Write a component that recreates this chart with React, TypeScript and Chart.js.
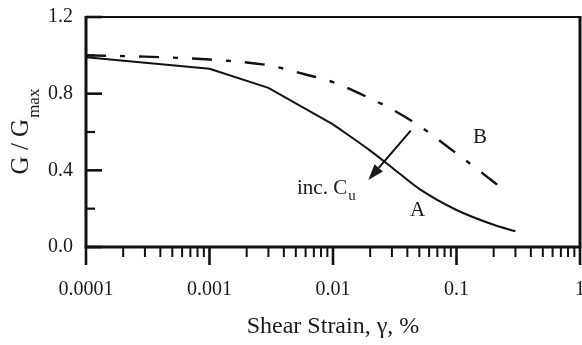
import React, { useEffect, useRef } from 'react';
import { Chart, registerables } from 'chart.js';

Chart.register(...registerables);

// Curve A (solid)
const strainA = [0.0001, 0.001, 0.003, 0.01, 0.02, 0.03, 0.05, 0.1, 0.2, 0.3];
const ratioA = [0.99, 0.93, 0.83, 0.64, 0.503, 0.415, 0.303, 0.193, 0.116, 0.082];
// index where curve A turns from straight segments to a smooth curve
const splitA = 3;
// Curve B (dash-dot)
const strainB = [0.0001, 0.0003, 0.001, 0.003, 0.006, 0.01, 0.02, 0.03, 0.05, 0.1, 0.15, 0.24];
const ratioB = [1.0, 0.993, 0.978, 0.948, 0.9, 0.86, 0.775, 0.718, 0.632, 0.488, 0.402, 0.3];

const xTickValues = [0.0001, 0.001, 0.01, 0.1, 1];
const xTickLabels = ['0.0001', '0.001', '0.01', '0.1', '1'];
const yMajorTicks = [0, 0.4, 0.8, 1.2];
const yMinorTicks = [0.2, 0.6, 1.0];

const xTitle = 'Shear Strain, \u03b3, %';
const yTitleMain = 'G / G';
const yTitleSub = 'max';

// annotations in data coordinates
const labelA = { text: 'A', x: 0.0483, y: 0.19 };
const labelB = { text: 'B', x: 0.155, y: 0.569 };
const incLabel = { text: 'inc. C', sub: 'u', x: 0.00511, y: 0.276 };
const arrowTail = { x: 0.0426, y: 0.607 };
const arrowTip = { x: 0.0193, y: 0.35 };

const SERIF = "'Liberation Serif', 'Times New Roman', serif";
const INK = '#111';

const decorPlugin = {
  id: 'decor',
  afterDatasetsDraw(chart: any) {
    const { ctx, chartArea, scales } = chart;
    const xs = scales.x;
    const ys = scales.y;
    const { left, right, top, bottom } = chartArea;
    ctx.save();
    ctx.strokeStyle = INK;
    ctx.fillStyle = INK;
    ctx.lineCap = 'butt';

    // frame
    ctx.lineWidth = 3;
    ctx.beginPath();
    ctx.moveTo(left, top - 1);
    ctx.lineTo(left, bottom);
    ctx.moveTo(left - 1.5, bottom);
    ctx.lineTo(right + 1.5, bottom);
    ctx.moveTo(right, bottom);
    ctx.lineTo(right, top - 1);
    ctx.stroke();
    ctx.lineWidth = 2.2;
    ctx.beginPath();
    ctx.moveTo(left, top);
    ctx.lineTo(right, top);
    ctx.stroke();

    // x ticks (outward, downward)
    ctx.lineWidth = 2.6;
    for (const v of xTickValues) {
      const px = xs.getPixelForValue(v);
      ctx.beginPath();
      ctx.moveTo(px, bottom);
      ctx.lineTo(px, bottom + 18);
      ctx.stroke();
    }
    ctx.lineWidth = 2;
    for (let d = 0; d < xTickValues.length - 1; d++) {
      for (let m = 2; m <= 9; m++) {
        const px = xs.getPixelForValue(xTickValues[d] * m);
        ctx.beginPath();
        ctx.moveTo(px, bottom);
        ctx.lineTo(px, bottom + 10);
        ctx.stroke();
      }
    }

    // y ticks (inward)
    ctx.lineWidth = 2.6;
    for (const v of yMajorTicks) {
      const py = ys.getPixelForValue(v);
      ctx.beginPath();
      ctx.moveTo(left, py);
      ctx.lineTo(left + 16, py);
      ctx.stroke();
    }
    ctx.lineWidth = 2.2;
    for (const v of yMinorTicks) {
      const py = ys.getPixelForValue(v);
      ctx.beginPath();
      ctx.moveTo(left, py);
      ctx.lineTo(left + 9, py);
      ctx.stroke();
    }

    // y title (rotated, with subscript)
    ctx.fillStyle = '#1a1a1a';
    ctx.save();
    const cy = (top + bottom) / 2;
    ctx.font = `25px ${SERIF}`;
    const wMain = ctx.measureText(yTitleMain).width;
    ctx.font = `17px ${SERIF}`;
    const wSub = ctx.measureText(yTitleSub).width;
    const total = wMain + wSub;
    ctx.translate(left - 58, cy + total / 2);
    ctx.rotate(-Math.PI / 2);
    ctx.textBaseline = 'alphabetic';
    ctx.textAlign = 'left';
    ctx.font = `25px ${SERIF}`;
    ctx.fillText(yTitleMain, 0, 0);
    ctx.font = `17px ${SERIF}`;
    ctx.fillText(yTitleSub, wMain + 1, 11);
    ctx.restore();

    // labels A, B
    ctx.font = `21px ${SERIF}`;
    ctx.textAlign = 'center';
    ctx.textBaseline = 'middle';
    ctx.fillText(labelA.text, xs.getPixelForValue(labelA.x), ys.getPixelForValue(labelA.y));
    ctx.fillText(labelB.text, xs.getPixelForValue(labelB.x), ys.getPixelForValue(labelB.y));

    // inc. Cu
    ctx.textAlign = 'left';
    ctx.textBaseline = 'alphabetic';
    const ix = xs.getPixelForValue(incLabel.x);
    const iy = ys.getPixelForValue(incLabel.y);
    ctx.font = `21px ${SERIF}`;
    ctx.fillText(incLabel.text, ix, iy);
    const wInc = ctx.measureText(incLabel.text).width;
    ctx.font = `15px ${SERIF}`;
    ctx.fillText(incLabel.sub, ix + wInc + 1, iy + 6);

    // arrow
    const tx = xs.getPixelForValue(arrowTail.x);
    const ty = ys.getPixelForValue(arrowTail.y);
    const hx = xs.getPixelForValue(arrowTip.x);
    const hy = ys.getPixelForValue(arrowTip.y);
    const ang = Math.atan2(hy - ty, hx - tx);
    const headLen = 16;
    const headHalf = 5.5;
    const bx = hx - headLen * Math.cos(ang);
    const by = hy - headLen * Math.sin(ang);
    ctx.lineWidth = 2;
    ctx.beginPath();
    ctx.moveTo(tx, ty);
    ctx.lineTo(bx, by);
    ctx.stroke();
    ctx.beginPath();
    ctx.moveTo(hx, hy);
    ctx.lineTo(bx + headHalf * Math.sin(ang), by - headHalf * Math.cos(ang));
    ctx.lineTo(bx - headHalf * Math.sin(ang), by + headHalf * Math.cos(ang));
    ctx.closePath();
    ctx.fill();

    ctx.restore();
  },
};

export default function App() {
  const ref = useRef<HTMLCanvasElement | null>(null);

  useEffect(() => {
    if (!ref.current) return;
    const pointsA = strainA.map((x, i) => ({ x, y: ratioA[i] }));
    const chart = new Chart(ref.current, {
      type: 'line',
      data: {
        datasets: [
          {
            label: 'A',
            data: pointsA.slice(0, splitA + 1),
            borderColor: INK,
            borderWidth: 2,
            pointRadius: 0,
            tension: 0,
            fill: false,
          },
          {
            label: 'A ',
            data: pointsA.slice(splitA),
            borderColor: INK,
            borderWidth: 2,
            pointRadius: 0,
            cubicInterpolationMode: 'monotone',
            fill: false,
          },
          {
            label: 'B',
            data: strainB.map((x, i) => ({ x, y: ratioB[i] })),
            borderColor: INK,
            borderWidth: 2.4,
            borderDash: [20, 14, 5, 14],
            pointRadius: 0,
            cubicInterpolationMode: 'monotone',
            fill: false,
          },
        ],
      },
      options: {
        animation: false,
        responsive: false,
        maintainAspectRatio: false,
        layout: { padding: { top: 17, right: 2, left: 0, bottom: 0 } },
        plugins: { legend: { display: false }, tooltip: { enabled: false } },
        scales: {
          x: {
            type: 'logarithmic',
            min: 0.0001,
            max: 1,
            grid: { display: false, drawTicks: false },
            border: { display: false },
            afterBuildTicks: (s: any) => {
              s.ticks = xTickValues.map((v) => ({ value: v }));
            },
            afterFit: (s: any) => {
              s.height = 98;
              s.paddingLeft = 0;
              s.paddingRight = 0;
            },
            ticks: {
              autoSkip: false,
              maxRotation: 0,
              minRotation: 0,
              padding: 31,
              color: '#1a1a1a',
              font: { family: SERIF, size: 20 },
              callback: (v: any) => {
                const i = xTickValues.findIndex((t) => Math.abs(t - Number(v)) < t * 1e-6);
                return i >= 0 ? xTickLabels[i] : '';
              },
            },
            title: {
              display: true,
              text: xTitle,
              color: '#1a1a1a',
              font: { family: SERIF, size: 24 },
              padding: { top: 4, bottom: 4 },
            },
          },
          y: {
            type: 'linear',
            min: 0,
            max: 1.2,
            grid: { display: false, drawTicks: false },
            border: { display: false },
            afterBuildTicks: (s: any) => {
              s.ticks = yMajorTicks.map((v) => ({ value: v }));
            },
            afterFit: (s: any) => {
              s.width = 86;
              s.paddingTop = 0;
              s.paddingBottom = 0;
            },
            ticks: {
              padding: 13,
              color: '#1a1a1a',
              font: { family: SERIF, size: 20 },
              callback: (v: any) => Number(v).toFixed(1),
            },
          },
        },
      },
      plugins: [decorPlugin],
    } as any);
    return () => chart.destroy();
  }, []);

  return (
    <div style={{ position: 'fixed', left: 0, top: 0, width: 582, height: 345, background: '#fff' }}>
      <canvas ref={ref} width={582} height={345} style={{ display: 'block' }} />
    </div>
  );
}
